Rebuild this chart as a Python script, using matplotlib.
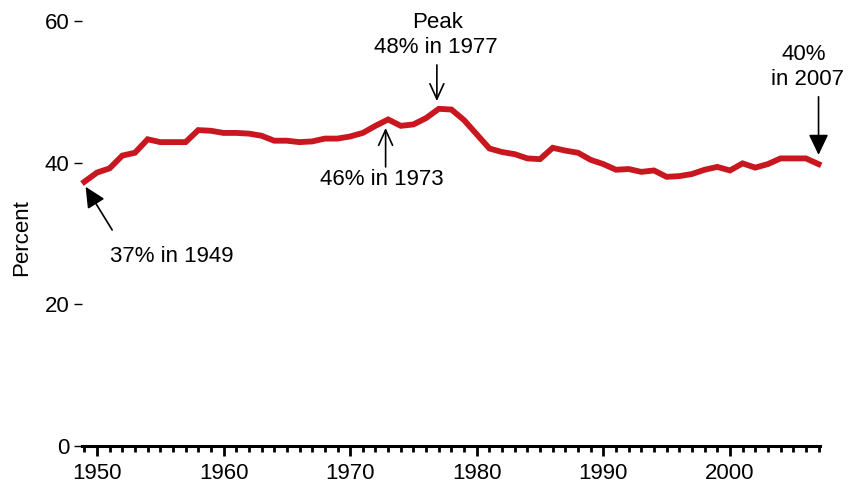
import matplotlib
matplotlib.use("Agg")
import matplotlib.pyplot as plt
from matplotlib.ticker import MultipleLocator

plt.rcParams['font.family'] = ['Liberation Sans', 'DejaVu Sans']

years = list(range(1949, 2008))
percent = [37.3, 38.6, 39.2, 41.0, 41.4, 43.3, 42.9, 42.9, 42.9, 44.6,
           44.5, 44.2, 44.2, 44.1, 43.8, 43.1, 43.1, 42.9, 43.0, 43.4,
           43.4, 43.7, 44.2, 45.2, 46.1, 45.2, 45.4, 46.3, 47.6, 47.5,
           46.0, 44.0, 42.0, 41.5, 41.2, 40.6, 40.5, 42.1, 41.7, 41.4,
           40.4, 39.8, 39.0, 39.1, 38.7, 38.9, 38.0, 38.1, 38.4, 39.0,
           39.4, 38.9, 39.9, 39.3, 39.8, 40.6, 40.6, 40.6, 39.8]
yticks = [0, 20, 40, 60]
xticks = [1950, 1960, 1970, 1980, 1990, 2000]

RED = '#C8171E'
FS = 16

fig = plt.figure(figsize=(8.48, 4.84), dpi=100)
ax = fig.add_axes([81.8 / 848, 38 / 484, 738 / 848, 425 / 484])

ax.plot(years, percent, color=RED, lw=4.2, solid_joinstyle='miter', zorder=3,
        clip_on=False)

ax.set_xlim(1948.8, 2007.1)
ax.set_ylim(0, 60)

for s in ['top', 'right', 'left']:
    ax.spines[s].set_visible(False)
ax.spines['bottom'].set_linewidth(2.2)

ax.set_xticks(xticks)
ax.set_xticklabels([str(x) for x in xticks])
ax.xaxis.set_minor_locator(MultipleLocator(1))
ax.tick_params(axis='x', which='major', direction='out', length=7.5, width=2.0,
               pad=5, labelsize=FS)
ax.tick_params(axis='x', which='minor', direction='out', length=4, width=2.0)

ax.set_yticks(yticks)
ax.set_yticklabels([str(y) for y in yticks])
ax.tick_params(axis='y', which='major', direction='out', length=6, width=1.0,
               pad=3, labelsize=FS)

fig.text(22 / 848, 1 - 238 / 484, 'Percent', rotation=90, ha='center',
         va='center', fontsize=FS)

# Annotations
open_arrow = dict(arrowstyle='->,head_length=1.1,head_width=0.5', lw=1.2,
                  color='black', shrinkA=0, shrinkB=0)
filled_arrow = dict(arrowstyle='-|>,head_length=1.25,head_width=0.6', lw=1.2,
                    color='black', shrinkA=0, shrinkB=0)

ax.annotate('', xy=(1976.85, 48.7), xytext=(1976.85, 53.8),
            arrowprops=open_arrow, annotation_clip=False)
ax.text(1976.9, 59.8, 'Peak', ha='center', va='center', fontsize=FS)
ax.text(1976.8, 56.2, '48% in 1977', ha='center', va='center', fontsize=FS)

ax.annotate('', xy=(1972.8, 44.9), xytext=(1972.8, 39.4),
            arrowprops=open_arrow, annotation_clip=False)
ax.text(1972.5, 37.6, '46% in 1973', ha='center', va='center', fontsize=FS)

ax.annotate('', xy=(1949.1, 36.6), xytext=(1951.2, 30.5),
            arrowprops=filled_arrow, annotation_clip=False)
ax.text(1951.0, 26.7, '37% in 1949', ha='left', va='center', fontsize=FS)

ax.annotate('', xy=(2007.0, 41.1), xytext=(2007.0, 49.3),
            arrowprops=filled_arrow, annotation_clip=False)
ax.text(2005.8, 55.2, '40%', ha='center', va='center', fontsize=FS)
ax.text(2006.1, 51.7, 'in 2007', ha='center', va='center', fontsize=FS)

fig.savefig('out.png', dpi=100)
